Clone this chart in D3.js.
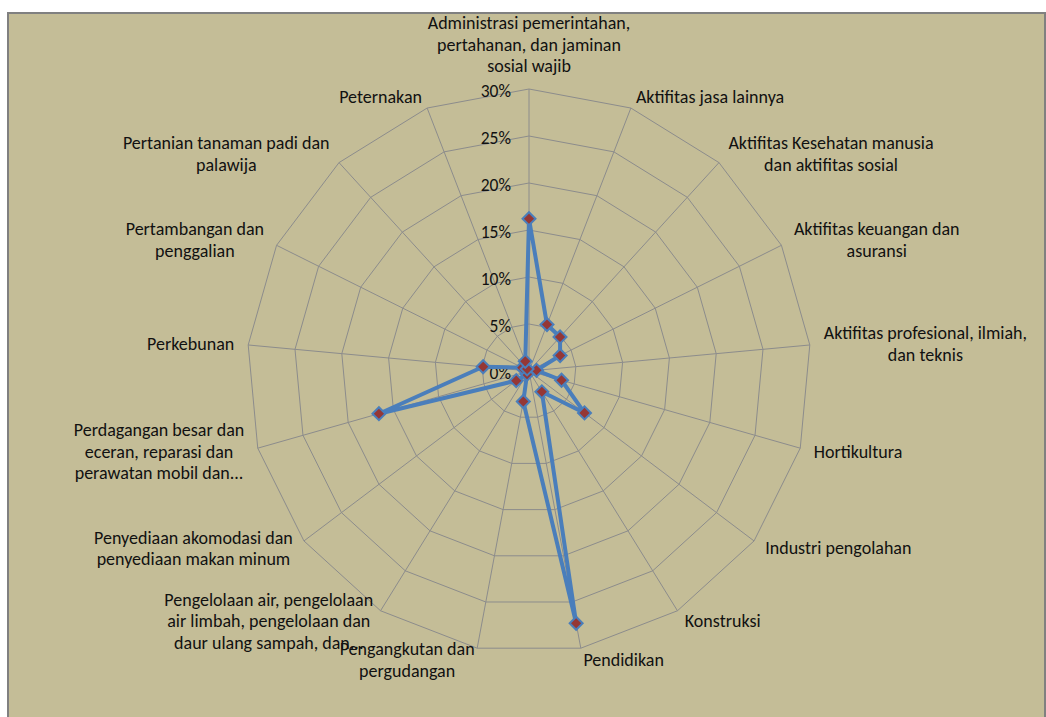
<!DOCTYPE html>
<html>
<head>
<meta charset="utf-8">
<script src="https://cdn.jsdelivr.net/npm/d3@7"></script>
<style>
  html, body { margin: 0; padding: 0; background: #fff; }
  svg { display: block; }
  text { font-family: Carlito, Lato, "Noto Sans", sans-serif; fill: #111; }
</style>
</head>
<body>
<svg id="chart"></svg>
<script>
// Chart data.
const categories = [
    ["Administrasi pemerintahan,", "pertahanan, dan jaminan", "sosial wajib"],
    ["Aktifitas jasa lainnya"],
    ["Aktifitas Kesehatan manusia", "dan aktifitas sosial"],
    ["Aktifitas keuangan dan", "asuransi"],
    ["Aktifitas profesional, ilmiah,", "dan teknis"],
    ["Hortikultura"],
    ["Industri pengolahan"],
    ["Konstruksi"],
    ["Pendidikan"],
    ["Pengangkutan dan", "pergudangan"],
    ["Pengelolaan air, pengelolaan", "air limbah, pengelolaan dan", "daur ulang sampah, dan..."],
    ["Penyediaan akomodasi dan", "penyediaan makan minum"],
    ["Perdagangan besar dan", "eceran, reparasi dan", "perawatan mobil dan..."],
    ["Perkebunan"],
    ["Pertambangan dan", "penggalian"],
    ["Pertanian tanaman padi dan", "palawija"],
    ["Peternakan"]
];
const values = [0.162, 0.053, 0.049, 0.037, 0.008, 0.036, 0.074, 0.026, 0.273,
                0.033, 0.004, 0.017, 0.166, 0.049, 0.008, 0.003, 0.011];
const ticks = [0, 0.05, 0.10, 0.15, 0.20, 0.25, 0.30];

const width = 1046, height = 717;
const cx = 529, cy = 371, radius = 282;
const lineH = 21.7;
const labelSize = 18;

const svg = d3.select("#chart").attr("width", width).attr("height", height);

// chart area background
svg.append("rect")
    .attr("x", 8).attr("y", 13)
    .attr("width", 1037).attr("height", 720)
    .attr("fill", "#C4BD97")
    .attr("stroke", "#808080")
    .attr("stroke-width", 2);

const r = d3.scaleLinear().domain([0, 0.30]).range([0, radius]);
const angle = d3.scaleLinear().domain([0, categories.length]).range([0, 2 * Math.PI]);

function pt(i, v) {
    const a = angle(i);
    return [cx + r(v) * Math.sin(a), cy - r(v) * Math.cos(a)];
}

const g = svg.append("g");

// rings
g.selectAll("polygon.ring")
    .data(ticks.filter(t => t > 0))
    .join("polygon")
    .attr("class", "ring")
    .attr("points", t => categories.map((c, i) => pt(i, t).join(",")).join(" "))
    .attr("fill", "none")
    .attr("stroke", "#8C8C8C")
    .attr("stroke-width", 1);

// spokes
g.selectAll("line.spoke")
    .data(categories)
    .join("line")
    .attr("class", "spoke")
    .attr("x1", cx).attr("y1", cy)
    .attr("x2", (d, i) => pt(i, 0.30)[0])
    .attr("y2", (d, i) => pt(i, 0.30)[1])
    .attr("stroke", "#8C8C8C")
    .attr("stroke-width", 1);

// tick labels
g.selectAll("text.tick")
    .data(ticks)
    .join("text")
    .attr("class", "tick")
    .attr("x", cx - 18)
    .attr("y", t => cy - r(t) + 2)
    .attr("dy", "0.35em")
    .attr("text-anchor", "end")
    .attr("font-size", 17.5)
    .text(d3.format(".0%"));

// category labels
const labels = g.selectAll("g.label")
    .data(categories)
    .join("g")
    .attr("class", "label");

labels.each(function (lines, i) {
    const el = d3.select(this);
    const texts = el.selectAll("text")
        .data(lines)
        .join("text")
        .attr("font-size", labelSize)
        .attr("text-anchor", "middle")
        .attr("dy", "0.35em")
        .text(d => d);
    let w = 0;
    texts.each(function () { w = Math.max(w, this.getComputedTextLength()); });
    const h = lines.length * lineH;
    const a = angle(i);
    const s = Math.sin(a), c = Math.cos(a);
    const [px, py] = pt(i, 0.30);
    let bx, by;
    if (Math.abs(s) < 0.05) {
        bx = px;
        by = py - 12 - h / 2;
    } else {
        bx = s > 0 ? px + 14 * s + w / 2 : px + 14 * s - w / 2;
        by = py - 12 * c;
    }
    texts.attr("x", bx)
        .attr("y", (d, k) => by - h / 2 + lineH / 2 + k * lineH);
});

// series line
const line = d3.line().curve(d3.curveLinearClosed);
g.append("path")
    .datum(values.map((v, i) => pt(i, v)))
    .attr("d", line)
    .attr("fill", "none")
    .attr("stroke", "#4A7EBB")
    .attr("stroke-width", 4)
    .attr("stroke-linejoin", "round");

// markers
g.selectAll("path.marker")
    .data(values)
    .join("path")
    .attr("class", "marker")
    .attr("d", d3.symbol(d3.symbolSquare, 84))
    .attr("transform", (v, i) => `translate(${pt(i, v)}) rotate(45)`)
    .attr("fill", "#953735")
    .attr("stroke", "#4A7EBB")
    .attr("stroke-width", 2);
</script>
</body>
</html>
